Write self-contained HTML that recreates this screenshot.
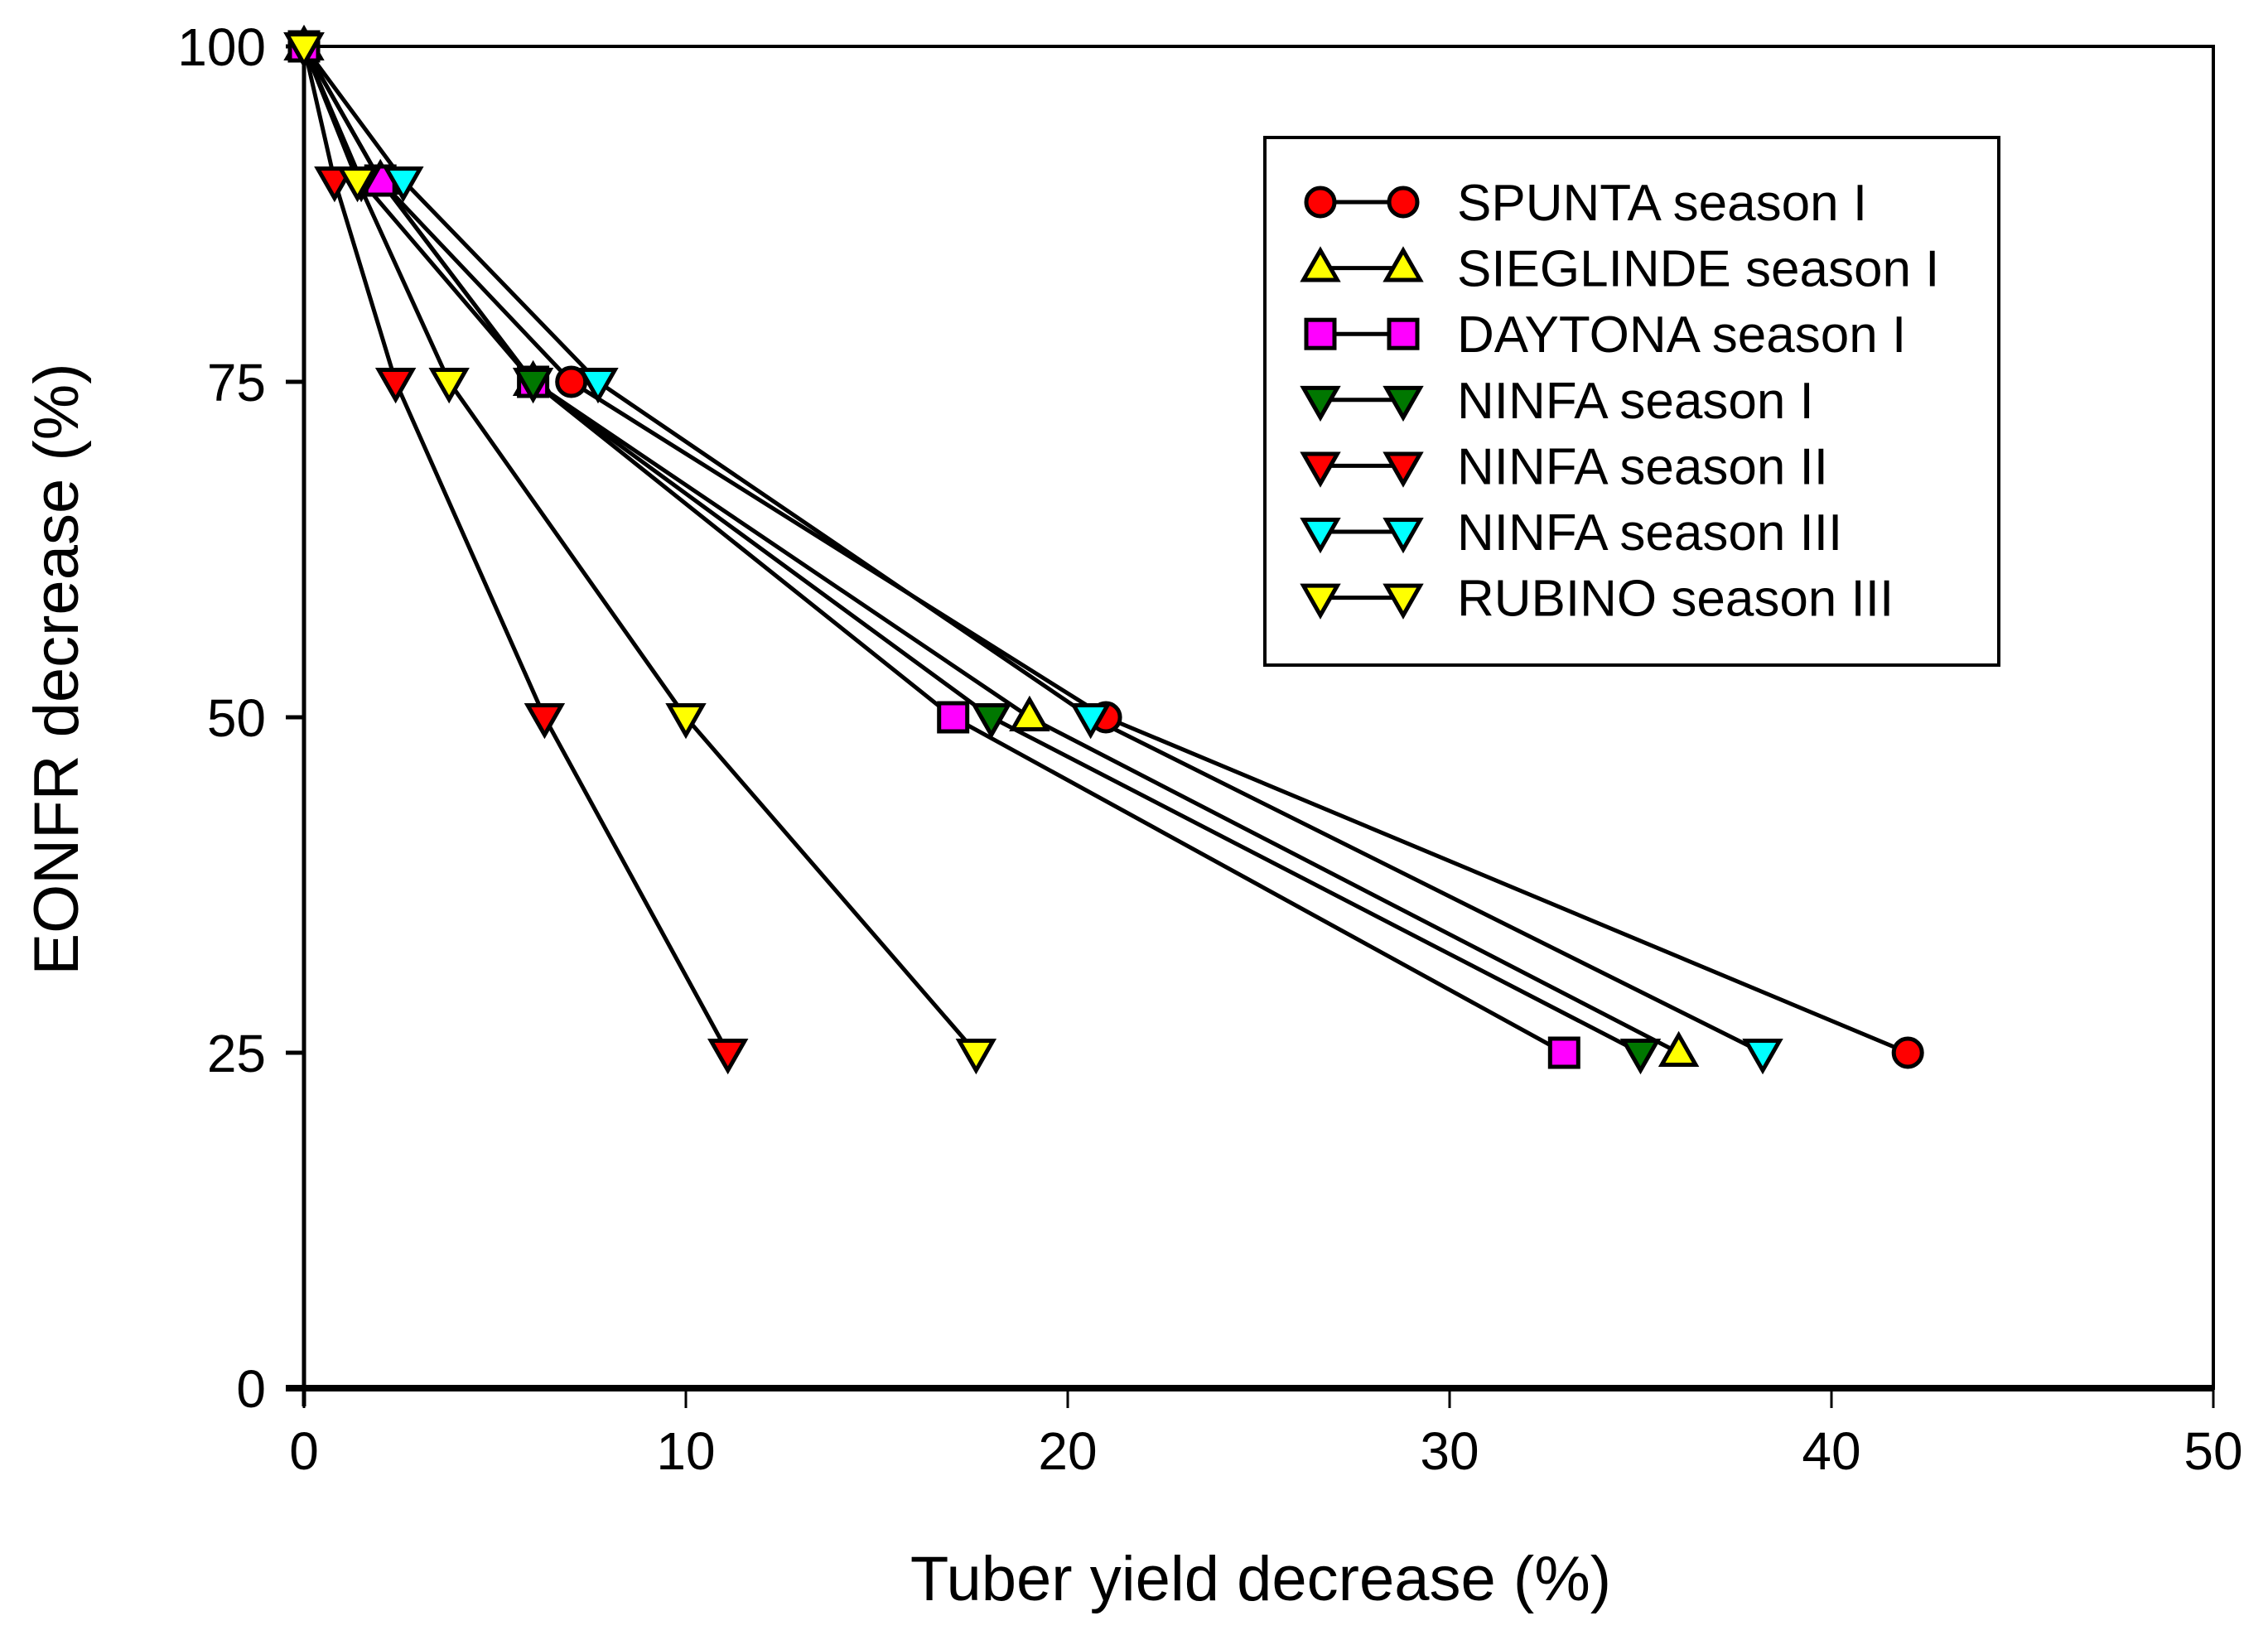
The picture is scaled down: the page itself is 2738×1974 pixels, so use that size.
<!DOCTYPE html>
<html><head><meta charset="utf-8"><style>
html,body{margin:0;padding:0;background:#fff;}
svg{display:block;font-family:"Liberation Sans",Arial,sans-serif;}
</style></head><body>
<svg id="chart" width="2738" height="1974" viewBox="0 0 2738 1974"></svg>
<script>
const xTicks=[0,10,20,30,40,50];
const yTicks=[0,25,50,75,100];
const yLevels=[100,90,75,50,25];
const seriesNames=["SPUNTA season I","SIEGLINDE season I","DAYTONA season I","NINFA season I","NINFA season II","NINFA season III","RUBINO season III"];
const spuntaX=[0,2,7,21,42];
const sieglindeX=[0,2,6,19,36];
const daytonaX=[0,2,6,17,33];
const ninfa1X=[0,1.5,6,18,35];
const ninfa2X=[0,0.8,2.4,6.3,11.1];
const ninfa3X=[0,2.6,7.7,20.6,38.2];
const rubinoX=[0,1.4,3.8,10,17.6];
const seriesX=[spuntaX,sieglindeX,daytonaX,ninfa1X,ninfa2X,ninfa3X,rubinoX];
const colors=["#ff0000","#ffff00","#ff00ff","#007700","#ff0000","#00ffff","#ffff00"];
const shapes=["circle","up","square","down","down","down","down"];

const L=367,R=2672,T=56,B=1676;
const xs=v=>L+(v/50)*(R-L);
const ys=v=>B-(v/100)*(B-T);
const svg=document.getElementById('chart');
const NS="http://www.w3.org/2000/svg";
function mk(tag,attrs,parent){const e=document.createElementNS(NS,tag);for(const k in attrs)e.setAttribute(k,attrs[k]);(parent||svg).appendChild(e);return e;}

const frame=mk('rect',{x:L,y:T,width:R-L,height:B-T,fill:'none',stroke:'#000','stroke-width':4});


const xa=mk('line',{x1:L-22,x2:R,y1:B,y2:B,stroke:'#000','stroke-width':8});


const ya=mk('line',{x1:L,x2:L,y1:T,y2:B+22,stroke:'#000','stroke-width':5});



xTicks.forEach(t=>{
  const ln=mk('line',{x1:xs(t),x2:xs(t),y1:B,y2:B+24,stroke:'#000','stroke-width':3});
  
  
  const tx=mk('text',{x:xs(t),y:B+98,'font-size':64,'text-anchor':'middle'});
  tx.textContent=t;
  
  
});
yTicks.forEach(t=>{
  const ln=mk('line',{x1:L-22,x2:L,y1:ys(t),y2:ys(t),stroke:'#000','stroke-width':5});
  
  
  const tx=mk('text',{x:L-46,y:ys(t)+23,'font-size':64,'text-anchor':'end'});
  tx.textContent=t;
  
  
});
const xt=mk('text',{x:1522,y:1932,'font-size':76,'text-anchor':'middle'});
xt.textContent="Tuber yield decrease (%)";


const yt=mk('text',{x:0,y:0,'font-size':76,'text-anchor':'middle',transform:'translate(94,808) rotate(-90)','xml:space':'preserve'});
yt.textContent="EONFR  decrease (%)";



function marker(shape,cx,cy,color,g,s){
  s=s||17;let e;
  if(shape==='circle')e=mk('circle',{cx:cx,cy:cy,r:s},g);
  else if(shape==='square')e=mk('rect',{x:cx-s,y:cy-s,width:2*s,height:2*s},g);
  else if(shape==='up')e=mk('polygon',{points:`${cx},${cy-s*1.25} ${cx+s*1.2},${cy+s*0.85} ${cx-s*1.2},${cy+s*0.85}`},g);
  else e=mk('polygon',{points:`${cx-s*1.2},${cy-s*0.85} ${cx+s*1.2},${cy-s*0.85} ${cx},${cy+s*1.25}`},g);
  e.setAttribute('fill',color);e.setAttribute('stroke','#000');e.setAttribute('stroke-width',5);
  return e;
}

seriesX.forEach((arr,i)=>{
  const g=mk('g',{});
  
  
  const pts=arr.map((x,j)=>xs(x)+','+ys(yLevels[j])).join(' ');
  const pl=mk('polyline',{points:pts,fill:'none',stroke:'#000','stroke-width':5},g);
  
  
});
seriesX.forEach((arr,i)=>{
  arr.forEach((x,j)=>{
    const m=marker(shapes[i],xs(x),ys(yLevels[j]),colors[i]);
    
    
  });
});

const lg=mk('g',{});


const lb=mk('rect',{x:1527,y:166,width:886,height:637,fill:'#fff',stroke:'#000','stroke-width':4},lg);


seriesNames.forEach((n,i)=>{
  const y=244+i*79.6;
  const eg=mk('g',{},lg);
  
  
  mk('line',{x1:1594,x2:1694,y1:y,y2:y,stroke:'#000','stroke-width':5},eg);
  marker(shapes[i],1594,y,colors[i],eg);
  marker(shapes[i],1694,y,colors[i],eg);
  const t=mk('text',{x:1759,y:y+22,'font-size':62},eg);
  t.textContent=n;
  
  
});
</script>
</body></html>
